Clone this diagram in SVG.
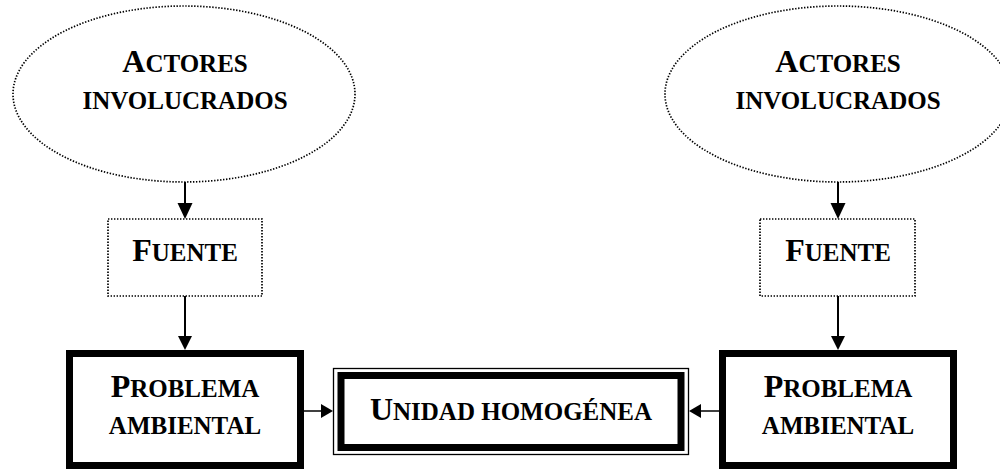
<svg xmlns="http://www.w3.org/2000/svg" width="1000" height="469" viewBox="0 0 1000 469">
<style>
text{font-family:"Liberation Serif","Times New Roman",serif;font-weight:bold;fill:#000;text-anchor:middle;font-size:32px}
.sc{font-size:25px}
.dot{fill:none;stroke:#000;stroke-width:1.7;stroke-dasharray:1.4 1.6}
.thick{fill:#fff;stroke:#000;stroke-width:7}
.thin{fill:#fff;stroke:#000;stroke-width:1.3}
.ln{stroke:#000;stroke-width:2;fill:none}
.hd{fill:#000}
</style>
<rect width="1000" height="469" fill="#fff"/>
<g id="actores-izq">
<ellipse class="dot" cx="184" cy="94" rx="171" ry="88"/>
<text x="185" y="72">A<tspan class="sc">CTORES</tspan></text>
<text x="185" y="109" class="sc">INVOLUCRADOS</text>
</g>
<g id="actores-der">
<ellipse class="dot" cx="838" cy="94" rx="173" ry="88"/>
<text x="838" y="72">A<tspan class="sc">CTORES</tspan></text>
<text x="838" y="109" class="sc">INVOLUCRADOS</text>
</g>
<g id="fuente-izq">
<rect class="dot" x="108" y="219" width="154" height="77"/>
<text x="185" y="261">F<tspan class="sc">UENTE</tspan></text>
</g>
<g id="fuente-der">
<rect class="dot" x="760" y="219" width="155" height="77"/>
<text x="838" y="261">F<tspan class="sc">UENTE</tspan></text>
</g>
<g id="problema-izq">
<rect class="thick" x="69.5" y="353.5" width="231" height="112"/>
<text x="185" y="397">P<tspan class="sc">ROBLEMA</tspan></text>
<text x="185" y="434" class="sc">AMBIENTAL</text>
</g>
<g id="problema-der">
<rect class="thick" x="722.5" y="353.5" width="231" height="112"/>
<text x="838" y="397">P<tspan class="sc">ROBLEMA</tspan></text>
<text x="838" y="434" class="sc">AMBIENTAL</text>
</g>
<g id="unidad">
<rect class="thin" x="333.5" y="368.5" width="355" height="86"/>
<rect class="thick" x="341" y="375.5" width="340" height="72"/>
<text x="511" y="420">U<tspan class="sc">NIDAD HOMOGÉNEA</tspan></text>
</g>
<g id="connectors">
<line class="ln" x1="185" y1="182" x2="185" y2="205"/>
<polygon class="hd" points="177.5,203 192.5,203 185,219"/>
<line class="ln" x1="185" y1="296" x2="185" y2="338"/>
<polygon class="hd" points="178,336 192,336 185,350"/>
<line class="ln" x1="838" y1="182" x2="838" y2="205"/>
<polygon class="hd" points="830.5,203 845.5,203 838,219"/>
<line class="ln" x1="838" y1="296" x2="838" y2="338"/>
<polygon class="hd" points="831,336 845,336 838,350"/>
<line class="ln" x1="304" y1="411" x2="323" y2="411" style="stroke-width:1.5"/>
<polygon class="hd" points="321,404 321,418 333,411"/>
<line class="ln" x1="719" y1="411" x2="700" y2="411" style="stroke-width:1.5"/>
<polygon class="hd" points="701,404 701,418 689,411"/>
</g>
</svg>
